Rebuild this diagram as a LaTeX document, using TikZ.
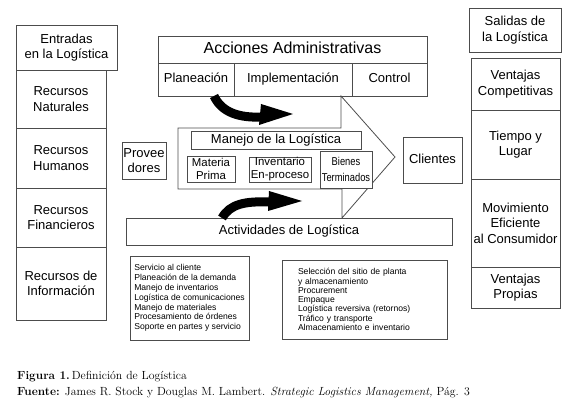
\documentclass[tikz,border=0pt]{standalone}
\usepackage{fontspec}
\newfontfamily\sansf{Liberation Sans}
\begin{document}
\begin{tikzpicture}[x=1pt,y=-1pt,
  lin/.style={draw=black!70, line width=0.8pt},
  box/.style={lin, fill=white, inner sep=0pt, align=center, font=\sansf\fontsize{13}{15.5}\selectfont},
  one/.style={text height=9.4pt, text depth=2.7pt},
  big/.style={font=\sansf\fontsize{16}{18}\selectfont, text height=11.5pt, text depth=3.4pt},
  small/.style={font=\sansf\fontsize{11.4}{13}\selectfont},
  listf/.style={font=\sansf\fontsize{8.6}{9.8}\selectfont},
  dims/.style 2 args={minimum width=#1pt, minimum height=#2pt},
  blk/.style={draw=black, line width=9pt},
  capf/.style={anchor=base west, inner sep=0pt, font=\fontsize{11.8}{14}\selectfont}]
\useasboundingbox (0,0) rectangle (580,411);
% left column
\node[box, dims={101}{45}] (entradas) at (66.5,47.5) {Entradas\\en la Logística};
\node[box, dims={90}{58}] (natur) at (61,99) {Recursos\\Naturales};
\node[box, dims={90}{60}] (human) at (61,158) {Recursos\\Humanos};
\node[box, dims={90}{59}] (financ) at (61,217.5) {Recursos\\Financieros};
\node[box, dims={90}{73}] (info) at (61,283.5) {Recursos de\\Información};
% proveedores
\node[box, dims={44}{37}] (prov) at (144,160.5) {Provee\\dores};
% acciones
\node[box, big, dims={269}{27}] (acciones) at (292.5,49.5) {Acciones Administrativas};
\node[box, one, dims={76}{33}] (plan) at (196,79.5) {Planeación};
\node[box, one, dims={118}{33}] (impl) at (293,79.5) {Implementación};
\node[box, one, dims={75}{33}] (ctrl) at (389.5,79.5) {Control};
% chevron
\draw[lin] (178,128) -- (341,128) -- (341,96) -- (395,157) -- (342,218) -- (342,189) -- (178,189) -- cycle;
\node[box, one, dims={170}{18}] (manejo) at (276,140) {Manejo de la Logística};
\node[box, small, dims={48}{26}] (materia) at (211,169) {Materia\\Prima};
\node[box, small, dims={62}{25}] (inv) at (280,169.5) {Inventario\\En-proceso};
\node[box, small, dims={52}{37}, font=\sansf\fontsize{11.4}{16}\selectfont] (bienes) at (346,169.5) {\scalebox{0.82}[1]{Bienes}\\\scalebox{0.82}[1]{Terminados}};
% clientes
\node[box, one, dims={59}{46}] (clientes) at (432.5,160) {Clientes};
% actividades
\node[box, one, dims={326}{27}] (activ) at (289,231.5) {Actividades de Logística};
% black arrows
\fill (261,104) -- (293,114) -- (259,125) -- cycle;
\draw[blk] (214,96) .. controls (222,113) and (240,118) .. (262,117);
\fill (269,191) -- (302,201) -- (268,211) -- cycle;
\draw[blk] (222,218) .. controls (230,204) and (245,201) .. (270,202);
% lists
\node[box, listf, dims={119}{84}, align=left] (list1) at (189.5,298) {Servicio al cliente\\Planeación de la demanda\\Manejo de inventarios\\Logística de comunicaciones\\Manejo de materiales\\Procesamiento de órdenes\\Soporte en partes y servicio};
\node[box, font=\sansf\fontsize{8.6}{9.3}\selectfont, text width=133pt, inner xsep=16pt, minimum height=79pt, align=left] (list2) at (364.5,299.5) {Selección del sitio de planta\\y almacenamiento\\Procurement\\Empaque\\Logística reversiva (retornos)\\Tráfico y transporte\\Almacenamiento e inventario};
% right column
\node[box, dims={92}{44}] (salidas) at (515,30) {Salidas de\\la Logística};
\node[box, dims={89}{52}] (vcomp) at (515.5,84) {Ventajas\\Competitivas};
\node[box, dims={89}{69}] (tiempo) at (515.5,144.5) {Tiempo y\\Lugar};
\node[box, dims={89}{88}] (movim) at (515.5,223) {Movimiento\\Eficiente\\al Consumidor};
\node[box, dims={89}{41}] (vprop) at (515.5,287.5) {Ventajas\\Propias};
% caption
\node[capf] (fig) at (17,379) {\textbf{Figura 1.}\,Definición de Logística};
\node[capf] (fuente) at (17,395) {\textbf{Fuente:} James R. Stock y Douglas M. Lambert. \textit{Strategic Logistics Management,} Pág. 3};
\end{tikzpicture}
\end{document}
